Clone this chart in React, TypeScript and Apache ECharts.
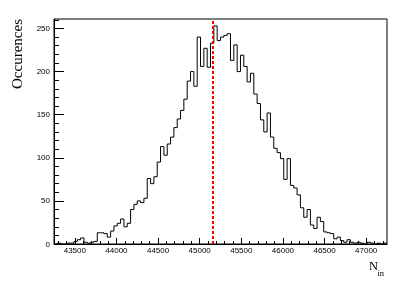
import React, { useEffect, useRef } from "react";
import * as echarts from "echarts";

// Histogram definition (ROOT-style TH1, 100 bins)
const histMin = 43250;
const histMax = 47250;
const binWidth = 40;
const counts = [
  0, 1, 0, 0, 1, 1, 3, 5, 7, 2, 1, 2, 3, 13, 13, 12,
  8, 15, 21, 24, 29, 20, 24, 40, 46, 50, 48, 53, 76, 70, 78, 95,
  113, 103, 116, 124, 135, 145, 155, 168, 189, 200, 183, 240, 206, 227, 205, 233,
  253, 236, 240, 242, 244, 213, 231, 200, 219, 206, 188, 198, 174, 163, 144, 130, 152,
  124, 111, 106, 99, 75, 99, 68, 65, 57, 42, 31, 40, 22, 18, 31,
  26, 14, 13, 12, 6, 8, 4, 2, 5, 2, 1, 2, 1, 0, 2, 1, 0, 1, 0, 1,
];
const meanValue = 45157;

const xMajorTicks = [43500, 44000, 44500, 45000, 45500, 46000, 46500, 47000];
const xMinorStep = 100;
const yMajorTicks = [0, 50, 100, 150, 200, 250];
const yMinorStep = 10;
const yMax = 261;

const xTitle = "N";
const xTitleSub = "in";
const yTitle = "Occurences";

const sans = '"Liberation Sans", Arial, Helvetica, sans-serif';
const serif = '"Liberation Serif", "Times New Roman", serif';

export default function App() {
  const ref = useRef<HTMLDivElement>(null);
  useEffect(() => {
    const chart = echarts.init(ref.current!, null, { renderer: "svg" });
    const pts: number[][] = counts.map((c, i) => [histMin + i * binWidth, c]);
    pts.push([histMin + counts.length * binWidth, counts[counts.length - 1]]);

    const xMinor: number[] = [];
    for (let v = Math.ceil(histMin / xMinorStep) * xMinorStep; v < histMax; v += xMinorStep) xMinor.push(v);
    const yMinor: number[] = [];
    for (let v = 0; v <= yMax; v += yMinorStep) yMinor.push(v);

    chart.setOption({
      animation: false,
      grid: {
        left: 54,
        top: 19,
        right: 28,
        bottom: 37,
        show: true,
        borderColor: "#000",
        borderWidth: 1,
        backgroundColor: "transparent",
      },
      xAxis: [
        {
          type: "value",
          min: histMin,
          max: histMax,
          position: "bottom",
          axisLine: { show: true, onZero: false, lineStyle: { color: "#000", width: 1 } },
          axisTick: { show: true, inside: true, length: 6, customValues: xMajorTicks, lineStyle: { color: "#000" } },
          axisLabel: {
            customValues: xMajorTicks,
            fontSize: 8,
            fontFamily: sans,
            color: "#000",
            margin: 2,
            formatter: (v: number) => String(v),
          },
          splitLine: { show: false },
        },
        {
          type: "value",
          min: histMin,
          max: histMax,
          position: "bottom",
          axisLine: { show: false },
          axisTick: { show: true, inside: true, length: 3, customValues: xMinor, lineStyle: { color: "#000" } },
          axisLabel: { show: false },
          splitLine: { show: false },
        },
      ],
      yAxis: [
        {
          type: "value",
          min: 0,
          max: yMax,
          position: "left",
          axisLine: { show: true, onZero: false, lineStyle: { color: "#000", width: 1 } },
          axisTick: { show: true, inside: true, length: 10, customValues: yMajorTicks, lineStyle: { color: "#000" } },
          axisLabel: {
            customValues: yMajorTicks,
            fontSize: 8,
            fontFamily: sans,
            color: "#000",
            margin: 4,
          },
          splitLine: { show: false },
        },
        {
          type: "value",
          min: 0,
          max: yMax,
          position: "left",
          axisLine: { show: false },
          axisTick: { show: true, inside: true, length: 5, customValues: yMinor, lineStyle: { color: "#000" } },
          axisLabel: { show: false },
          splitLine: { show: false },
        },
      ],
      series: [
        {
          type: "line",
          xAxisIndex: 0,
          yAxisIndex: 0,
          step: "end",
          data: pts,
          symbol: "none",
          lineStyle: { color: "#000", width: 1 },
          markLine: {
            silent: true,
            symbol: ["none", "none"],
            label: { show: false },
            lineStyle: { color: "#ff0000", type: [3, 2], width: 2 },
            data: [{ xAxis: meanValue }],
          },
        },
      ],
      graphic: [
        {
          type: "text",
          x: 17,
          y: 54,
          rotation: Math.PI / 2,
          style: { text: yTitle, font: `15px ${serif}`, fill: "#000", align: "center", verticalAlign: "middle" },
        },
        {
          type: "text",
          x: 369,
          y: 266,
          style: { text: xTitle, font: `12.5px ${serif}`, fill: "#000", align: "left", verticalAlign: "middle" },
        },
        {
          type: "text",
          x: 377.5,
          y: 273,
          style: { text: xTitleSub, font: `8.5px ${serif}`, fill: "#000", align: "left", verticalAlign: "middle" },
        },
      ],
    });
    return () => chart.dispose();
  }, []);
  return <div ref={ref} style={{ position: "fixed", left: 0, top: 0, width: 415, height: 281 }} />;
}
